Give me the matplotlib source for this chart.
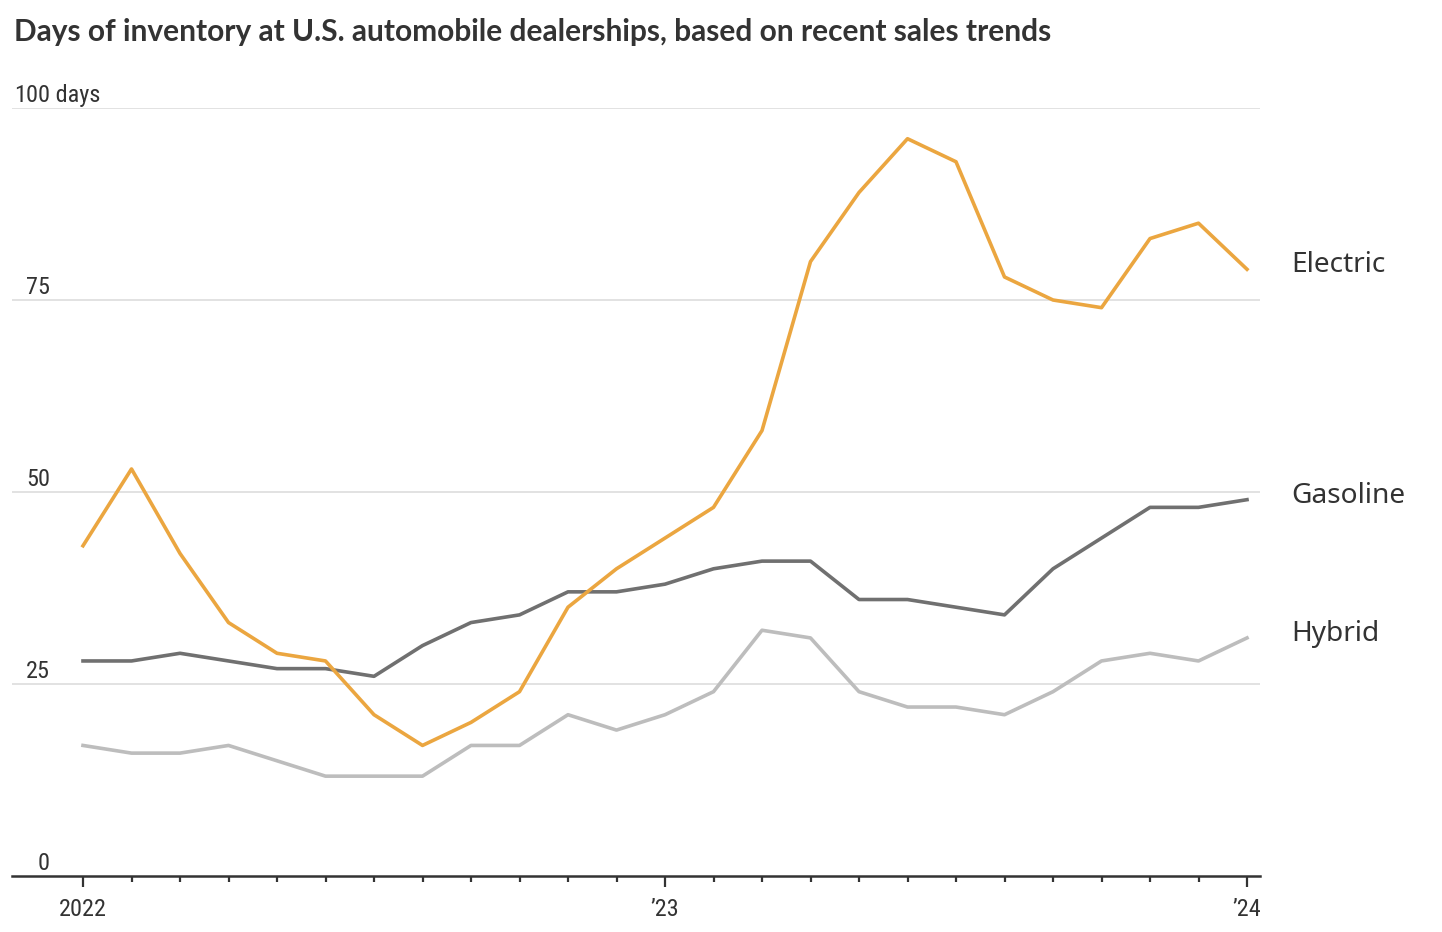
import matplotlib
matplotlib.use("Agg")
import matplotlib.pyplot as plt
import matplotlib.transforms as mtransforms

months = list(range(25))  # Jan 2022 .. Jan 2024
electric = [43, 53, 42, 33, 29, 28, 21, 17, 20, 24, 35, 40,
            44, 48, 58, 80, 89, 96, 93, 78, 75, 74, 83, 85, 79]
gasoline = [28, 28, 29, 28, 27, 27, 26, 30, 33, 34, 37, 37,
            38, 40, 41, 41, 36, 36, 35, 34, 40, 44, 48, 48, 49]
hybrid = [17, 16, 16, 17, 15, 13, 13, 13, 17, 17, 21, 19,
          21, 24, 32, 31, 24, 22, 22, 21, 24, 28, 29, 28, 31]
year_ticks = [0, 12, 24]
year_labels = ["2022", "\u201923", "\u201924"]
y_ticks = [25, 50, 75, 100]
y_labels = ["0", "25", "50", "75", "100"]

narrow = ["Roboto Condensed", "Liberation Sans Narrow", "Roboto"]
text_color = "#333333"

fig = plt.figure(figsize=(14.42, 9.32), dpi=100)
W, H = 1442, 932
ax = fig.add_axes([12 / W, 56 / H, (1260 - 12) / W, (876 - 108) / H])

x_left = (12 - 83) / 48.5
x_right = (1260 - 83) / 48.5
ax.set_xlim(x_left, x_right)
ax.set_ylim(0, 100)

for v in y_ticks:
    ax.axhline(v, color="#dddddd", lw=1.2, zorder=1)

ax.plot(months, hybrid, color="#bdbdbd", lw=2.6, zorder=3)
ax.plot(months, gasoline, color="#707070", lw=2.6, zorder=4)
ax.plot(months, electric, color="#eba640", lw=2.6, zorder=5)

for s in ["top", "right", "left"]:
    ax.spines[s].set_visible(False)
ax.spines["bottom"].set_color(text_color)
ax.spines["bottom"].set_linewidth(1.8)
ax.set_yticks([])

ax.set_xticks(year_ticks)
ax.set_xticklabels(year_labels, family=narrow, fontsize=17.5, color=text_color)
ax.set_xticks(months, minor=True)
ax.tick_params(axis="x", which="major", length=8, width=1.6, color=text_color, pad=8)
ax.tick_params(axis="x", which="minor", length=4, width=1.6, color=text_color)

# y labels: numbers right aligned at x=50px, sitting above gridlines
trans = mtransforms.blended_transform_factory(fig.transFigure, ax.transData)
offset = mtransforms.ScaledTranslation(0, 1 / 100, fig.dpi_scale_trans)
for v, lab in zip([0] + y_ticks, y_labels):
    ax.text(50 / W, v, lab, transform=trans + offset, ha="right", va="bottom",
            family=narrow, fontsize=17.5, color=text_color)
ax.text(50 / W, 100, " days", transform=trans + offset, ha="left", va="bottom",
        family=narrow, fontsize=17.5, color=text_color)

# series labels
for name, yv in [("Electric", 79.5), ("Gasoline", 49.5), ("Hybrid", 31.5)]:
    ax.text((1291 - 83) / 48.5, yv, name, ha="left", va="center",
            family="Noto Sans", fontsize=20.2, color=text_color, clip_on=False)

fig.text(14 / W, 1 - 32 / H, "Days of inventory at U.S. automobile dealerships, based on recent sales trends",
         ha="left", va="center", family="Lato", weight="bold", fontsize=21.5, color=text_color)

fig.savefig("out.png", dpi=100, facecolor="white")
